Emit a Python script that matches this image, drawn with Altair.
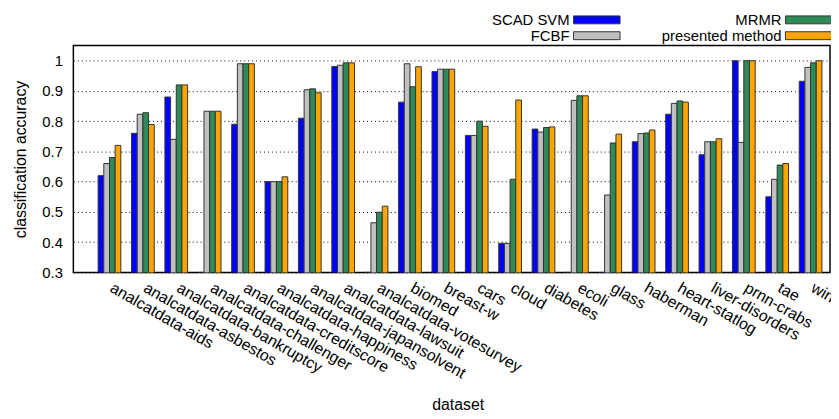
import altair as alt
import pandas as pd

datasets = ["analcatdata-aids", "analcatdata-asbestos", "analcatdata-bankruptcy",
            "analcatdata-challenger", "analcatdata-creditscore", "analcatdata-happiness",
            "analcatdata-japansolvent", "analcatdata-lawsuit", "analcatdata-votesurvey",
            "biomed", "breast-w", "cars", "cloud", "diabetes", "ecoli", "glass",
            "haberman", "heart-statlog", "liver-disorders", "prnn-crabs", "tae", "wine"]
methods = ["SCAD SVM", "FCBF", "MRMR", "presented method"]
colors = ["#0000ff", "#c0c0c0", "#2e8b57", "#ffa500"]

scad = [0.62, 0.76, 0.88, 0.30, 0.79, 0.60, 0.81, 0.981, 0.30, 0.863, 0.964, 0.753,
        0.396, 0.774, 0.30, 0.30, 0.732, 0.823, 0.689, 1.0, 0.55, 0.932]
fcbf = [0.66, 0.823, 0.74, 0.833, 0.99, 0.60, 0.904, 0.985, 0.464, 0.99, 0.972, 0.753,
        0.396, 0.764, 0.869, 0.556, 0.759, 0.859, 0.732, 0.73, 0.608, 0.978]
mrmr = [0.68, 0.828, 0.92, 0.833, 0.99, 0.60, 0.907, 0.993, 0.499, 0.914, 0.972, 0.80,
        0.608, 0.779, 0.884, 0.728, 0.761, 0.867, 0.732, 1.0, 0.655, 0.993]
presented = [0.72, 0.789, 0.92, 0.833, 0.99, 0.616, 0.894, 0.993, 0.519, 0.98, 0.972, 0.783,
             0.87, 0.781, 0.884, 0.757, 0.771, 0.863, 0.742, 1.0, 0.66, 1.0]
y_ticks = [0.3, 0.4, 0.5, 0.6, 0.7, 0.8, 0.9, 1.0]

# legend layout (key column / row of each method)
legend_col = [0, 0, 1, 1]
legend_row = [0, 1, 0, 1]

rows = []
for m, vals in zip(methods, [scad, fcbf, mrmr, presented]):
    for d, v in zip(datasets, vals):
        rows.append({"dataset": d, "method": m, "accuracy": v})
df = pd.DataFrame(rows)
legend_df = pd.DataFrame({"method": methods, "col": legend_col, "row": legend_row})

FONT = "Liberation Sans"
color_scale = alt.Scale(domain=methods, range=colors)

bars = alt.Chart(df).mark_bar(stroke="#333333", strokeWidth=1, clip=True).encode(
    x=alt.X("dataset:N", sort=datasets,
            scale=alt.Scale(paddingInner=0.32, paddingOuter=0.492, align=0.754),
            axis=alt.Axis(title="dataset", labelAngle=30, labelAlign="left",
                          labelBaseline="top", labelPadding=7, labelOffset=6, ticks=False,
                          domain=False, labelLimit=400, labelFontSize=16,
                          titleFontSize=16, titleFontWeight="normal",
                          titleX=388, titleY=138, titleAlign="center",
                          titleBaseline="alphabetic")),
    xOffset=alt.XOffset("method:N", sort=methods,
                        scale=alt.Scale(paddingInner=0, paddingOuter=0)),
    y=alt.Y("accuracy:Q",
            scale=alt.Scale(domain=[0.3, 1.05], zero=False, nice=False),
            axis=alt.Axis(title="classification accuracy", values=y_ticks, format="~g",
                          grid=True, gridColor="#000000", gridDash=[1, 3], gridWidth=1,
                          ticks=False, domain=False, labelPadding=11, labelFontSize=15,
                          titleFontSize=16, titleFontWeight="normal", titlePadding=13)),
    color=alt.Color("method:N", sort=methods, scale=color_scale, legend=None),
)

leg_x = alt.X("col:Q", scale=alt.Scale(domain=[0, 1], range=[528.5, 742.5], zero=False, nice=False),
              axis=None)
leg_y = alt.Y("row:Q", scale=alt.Scale(domain=[0, 1], range=[-26, -10], zero=False, nice=False),
              axis=None)

boxes = alt.Chart(legend_df).mark_rect(width=47, height=8, stroke="#333333",
                                       strokeWidth=1, clip=False).encode(
    x=leg_x, y=leg_y,
    color=alt.Color("method:N", scale=color_scale, legend=None),
)
labels = alt.Chart(legend_df).mark_text(align="right", baseline="middle", dx=-27.5,
                                        fontSize=15, font=FONT, color="#000000",
                                        clip=False).encode(
    x=leg_x, y=leg_y, text="method:N",
)

chart = alt.layer(bars, boxes, labels).resolve_scale(
    x="independent", y="independent"
).properties(
    width=764, height=229,
    autosize=alt.AutoSizeParams(type="none"),
    padding={"left": 66, "top": 36, "right": 1, "bottom": 140},
).configure(
    font=FONT,
).configure_view(
    stroke="#000000", strokeWidth=1.5
).configure_axis(
    labelColor="#000000", titleColor="#000000", labelFont=FONT, titleFont=FONT
)

chart.save("out.html", embed_options={"renderer": "svg", "actions": False})
